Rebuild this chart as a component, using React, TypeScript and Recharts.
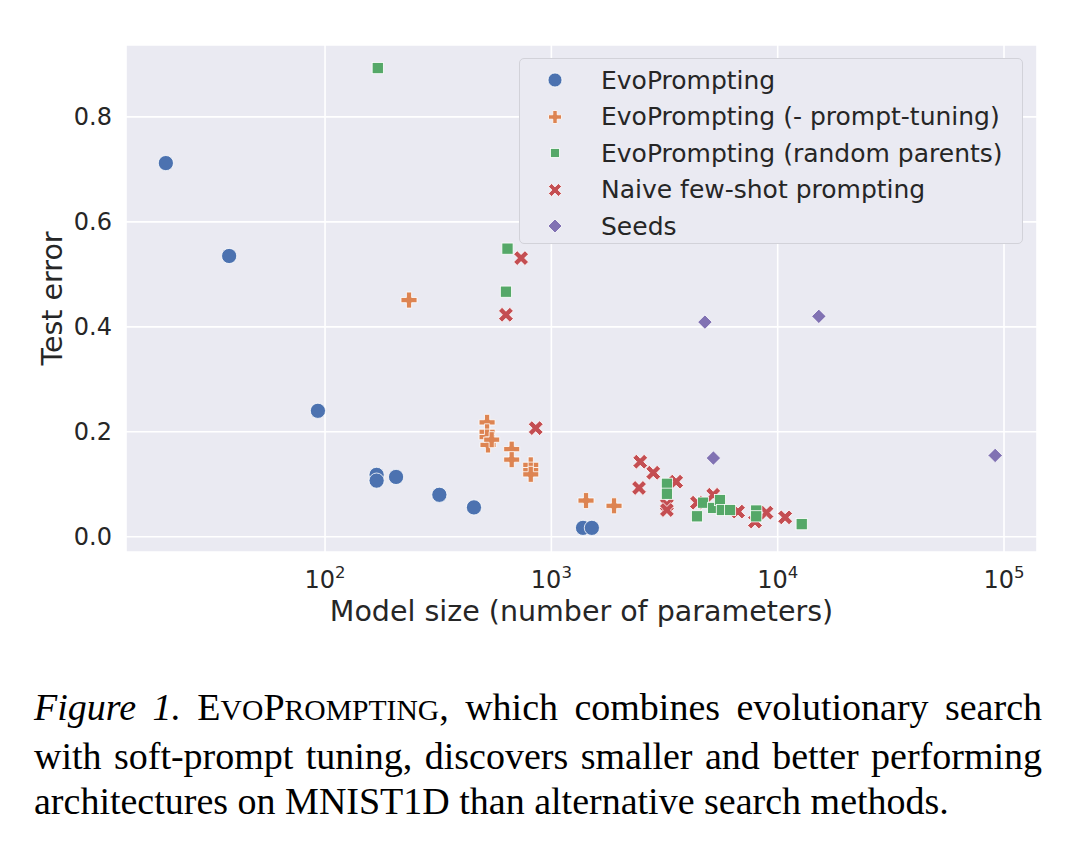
import { ScatterChart, Scatter, XAxis, YAxis, CartesianGrid, Legend } from "recharts";

// model size (number of parameters) and test error
const evoSize = [19.8, 37.7, 93, 169, 169, 206, 320, 455, 1380, 1510];
const evoErr = [0.712, 0.535, 0.24, 0.118, 0.107, 0.114, 0.08, 0.056, 0.017, 0.017];

const noTuneSize = [235, 520, 520, 520, 525, 545, 668, 668, 811, 811, 811, 1423, 1892];
const noTuneErr = [0.451, 0.218, 0.2, 0.19, 0.175, 0.185, 0.167, 0.147, 0.137, 0.127, 0.119, 0.069, 0.059];

const randSize = [171, 640, 630, 3240, 3240, 4400, 4680, 5190, 5560, 5670, 6160, 8040, 8040, 12770];
const randErr = [0.893, 0.549, 0.467, 0.101, 0.082, 0.039, 0.065, 0.055, 0.07, 0.051, 0.051, 0.05, 0.039, 0.024];

const naiveSize = [735, 630, 853, 2470, 2820, 2440, 3560, 3240, 3240, 5190, 4400, 6680, 7940, 8920, 10790];
const naiveErr = [0.531, 0.423, 0.207, 0.143, 0.122, 0.093, 0.105, 0.061, 0.051, 0.08, 0.065, 0.048, 0.029, 0.046, 0.037];

const seedSize = [4770, 15200, 5200, 91400];
const seedErr = [0.409, 0.42, 0.15, 0.155];

const xTicks = [100, 1000, 10000, 100000];
const yTicks = [0, 0.2, 0.4, 0.6, 0.8];

const seriesNames = [
  "EvoPrompting",
  "EvoPrompting (- prompt-tuning)",
  "EvoPrompting (random parents)",
  "Naive few-shot prompting",
  "Seeds",
];

const BLUE = "#4C72B0";
const ORANGE = "#DD8452";
const GREEN = "#55A868";
const RED = "#C44E52";
const PURPLE = "#8172B3";
const FONT = "DejaVu Sans";
const INK = "#262626";

const toPoints = (xs: number[], ys: number[]) => xs.map((x, i) => ({ x, y: ys[i] }));

// marker shapes (matplotlib-ish, white edge)
function Dot({ cx, cy, fill, r = 7.6 }: any) {
  return <circle cx={cx} cy={cy} r={r} fill={fill} stroke="#fff" strokeWidth={0.8} />;
}

function plusPath(cx: number, cy: number, s: number, w: number) {
  return `M${cx - w},${cy - s}H${cx + w}V${cy - w}H${cx + s}V${cy + w}H${cx + w}V${cy + s}H${cx - w}V${cy + w}H${cx - s}V${cy - w}H${cx - w}Z`;
}

function Plus({ cx, cy, fill, s = 8, w = 2.6 }: any) {
  return <path d={plusPath(cx, cy, s, w)} fill={fill} stroke="#fff" strokeWidth={0.8} />;
}

function Cross({ cx, cy, fill, s = 8, w = 2.5 }: any) {
  return (
    <path
      d={plusPath(cx, cy, s, w)}
      fill={fill}
      stroke="#fff"
      strokeWidth={0.8}
      transform={`rotate(45 ${cx} ${cy})`}
    />
  );
}

function Square({ cx, cy, fill, s = 5.6 }: any) {
  return <rect x={cx - s} y={cy - s} width={s * 2} height={s * 2} fill={fill} stroke="#fff" strokeWidth={0.8} />;
}

function Diamond({ cx, cy, fill, d = 7.2 }: any) {
  return (
    <path
      d={`M${cx},${cy - d}L${cx + d},${cy}L${cx},${cy + d}L${cx - d},${cy}Z`}
      fill={fill}
      stroke="#fff"
      strokeWidth={0.8}
    />
  );
}

function LogTick({ x, y, payload }: any) {
  const exp = Math.round(Math.log10(payload.value));
  return (
    <text x={x} y={y + 36} textAnchor="middle" fill={INK} fontFamily={FONT} fontSize={24}>
      <tspan>10</tspan>
      <tspan dy={-10} fontSize={16.5}>
        {exp}
      </tspan>
    </text>
  );
}

function ErrTick({ x, y, payload }: any) {
  return (
    <text x={x - 14} y={y + 8.5} textAnchor="end" fill={INK} fontFamily={FONT} fontSize={24}>
      {payload.value.toFixed(1)}
    </text>
  );
}

function legendIcon(i: number) {
  const c = 12;
  if (i === 0) return <Dot cx={c} cy={c} fill={BLUE} r={7} />;
  if (i === 1) return <Plus cx={c} cy={c} fill={ORANGE} s={6.5} w={2.2} />;
  if (i === 2) return <Square cx={c} cy={c} fill={GREEN} s={4.5} />;
  if (i === 3) return <Cross cx={c} cy={c} fill={RED} s={7} w={2.2} />;
  return <Diamond cx={c} cy={c} fill={PURPLE} d={7} />;
}

function LegendBox() {
  return (
    <div
      style={{
        width: 504,
        height: 186,
        boxSizing: "border-box",
        border: "1px solid #D2D2D9",
        borderRadius: 5,
        background: "#EAEAF2",
        paddingTop: 3,
        fontFamily: FONT,
        fontSize: 25,
        color: INK,
      }}
    >
      {seriesNames.map((name, i) => (
        <div key={name} style={{ display: "flex", alignItems: "center", height: 36.5 }}>
          <svg width={24} height={24} style={{ marginLeft: 23, marginRight: 34 }}>
            {legendIcon(i)}
          </svg>
          <span style={{ whiteSpace: "nowrap", lineHeight: 1 }}>{name}</span>
        </div>
      ))}
    </div>
  );
}

const smallCap = { fontSize: "0.78em" };

export default function App() {
  return (
    <div
      style={{
        position: "absolute",
        left: 0,
        top: 0,
        width: 1080,
        height: 859,
        background: "#fff",
        overflow: "hidden",
      }}
    >
      <ScatterChart width={1080} height={640} margin={{ top: 45, right: 43, bottom: 0, left: 0 }}>
        <CartesianGrid fill="#EAEAF2" stroke="#fff" strokeWidth={1.6} />
        <XAxis
          dataKey="x"
          type="number"
          scale="log"
          domain={[13.2, 139900]}
          allowDataOverflow
          ticks={xTicks}
          tick={<LogTick />}
          tickSize={0}
          tickMargin={0}
          axisLine={false}
          tickLine={false}
          height={88}
          label={{
            content: ({ viewBox }: any) => (
              <text
                x={viewBox.x + viewBox.width / 2}
                y={viewBox.y + 69}
                textAnchor="middle"
                fill={INK}
                fontFamily={FONT}
                fontSize={28.5}
              >
                Model size (number of parameters)
              </text>
            ),
          }}
        />
        <YAxis
          dataKey="y"
          type="number"
          domain={[-0.029, 0.937]}
          allowDataOverflow
          ticks={yTicks}
          tick={<ErrTick />}
          tickSize={0}
          tickMargin={0}
          axisLine={false}
          tickLine={false}
          width={126}
          label={{
            content: ({ viewBox }: any) => (
              <text
                transform={`translate(${viewBox.x + 62}, ${viewBox.y + viewBox.height / 2}) rotate(-90)`}
                textAnchor="middle"
                fill={INK}
                fontFamily={FONT}
                fontSize={28.5}
              >
                Test error
              </text>
            ),
          }}
        />
        <Legend
          layout="vertical"
          align="center"
          verticalAlign="middle"
          content={() => <LegendBox />}
          wrapperStyle={{ left: 519, top: 58, width: 504, height: 186 }}
        />
        <Scatter
          name={seriesNames[0]}
          data={toPoints(evoSize, evoErr)}
          fill={BLUE}
          shape={(p: any) => <Dot cx={p.cx} cy={p.cy} fill={BLUE} />}
          isAnimationActive={false}
        />
        <Scatter
          name={seriesNames[1]}
          data={toPoints(noTuneSize, noTuneErr)}
          fill={ORANGE}
          shape={(p: any) => <Plus cx={p.cx} cy={p.cy} fill={ORANGE} />}
          isAnimationActive={false}
        />
        <Scatter
          name={seriesNames[3]}
          data={toPoints(naiveSize, naiveErr)}
          fill={RED}
          shape={(p: any) => <Cross cx={p.cx} cy={p.cy} fill={RED} />}
          isAnimationActive={false}
        />
        <Scatter
          name={seriesNames[2]}
          data={toPoints(randSize, randErr)}
          fill={GREEN}
          shape={(p: any) => <Square cx={p.cx} cy={p.cy} fill={GREEN} />}
          isAnimationActive={false}
        />
        <Scatter
          name={seriesNames[4]}
          data={toPoints(seedSize, seedErr)}
          fill={PURPLE}
          shape={(p: any) => <Diamond cx={p.cx} cy={p.cy} fill={PURPLE} />}
          isAnimationActive={false}
        />
      </ScatterChart>

      <div
        style={{
          position: "absolute",
          left: 34,
          top: 685,
          width: 1008,
          fontFamily: "'Liberation Serif', serif",
          fontSize: 38,
          lineHeight: "45.5px",
          color: "#000",
        }}
      >
        <div style={{ textAlign: "justify", textAlignLast: "justify", whiteSpace: "nowrap" }}>
          <i>Figure 1.</i> E<span style={smallCap}>VO</span>P<span style={smallCap}>ROMPTING</span>, which
          combines evolutionary search
        </div>
        <div style={{ textAlign: "justify", textAlignLast: "justify", whiteSpace: "nowrap" }}>
          with soft-prompt tuning, discovers smaller and better performing
        </div>
        <div style={{ whiteSpace: "nowrap" }}>architectures on MNIST1D than alternative search methods.</div>
      </div>
    </div>
  );
}
